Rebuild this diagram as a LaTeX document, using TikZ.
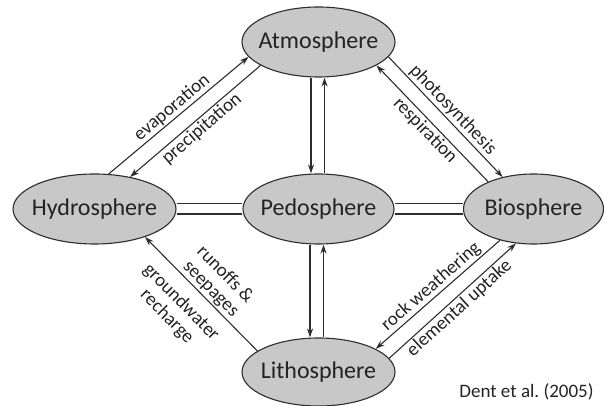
\documentclass[tikz,border=0pt]{standalone}
\usepackage{fontspec}
\setmainfont{Carlito}
\usetikzlibrary{arrows.meta,shapes.geometric}
\definecolor{sphere_gray}{RGB}{200,200,200}
\definecolor{line_gray}{RGB}{45,45,45}
\definecolor{text_dark}{RGB}{35,35,35}
% keep the ellipse size independent of the label width
\newcommand{\sphname}[1]{\makebox[0pt]{#1}}

\begin{document}
\begin{tikzpicture}[->,>={Stealth[length=9pt,width=6pt]},line width=1.1pt,draw=line_gray,x=1pt,y=1pt]
    \tikzstyle{sphere}=[draw=line_gray, ellipse, fill=sphere_gray, text=text_dark, inner sep=0pt, minimum height=70pt, font=\fontsize{24}{28}\selectfont]
    \tikzstyle{flow}=[sloped, text=text_dark, inner sep=1.5pt, align=center, font=\fontsize{19}{20}\selectfont]
    \tikzstyle{link}=[-, double, double distance=9pt]

    \useasboundingbox (0,0) rectangle (604,406);

    \node[sphere, minimum width=153pt] (atm) at (318.5,364) {\sphname{Atmosphere}};
    \node[sphere, minimum width=163pt] (hyd) at (94.5,197)  {\sphname{Hydrosphere}};
    \node[sphere, minimum width=151pt] (ped) at (318.5,197) {\sphname{Pedosphere}};
    \node[sphere, minimum width=140pt] (bio) at (533.5,197) {\sphname{Biosphere}};
    \node[sphere, minimum width=153pt, minimum height=68pt] (lit) at (318.5,34) {\sphname{Lithosphere}};
    \node[text=text_dark, font=\fontsize{19}{20}\selectfont] (ref) at (526.5,14) {Dent et al.\ (2005)};

    \path
     (hyd.68) edge node[flow, above] {evaporation} (atm.192)
     (atm.202) edge node[flow, below] {precipitation} (hyd.42)
     (atm.348) edge node[flow, above] {photosynthesis} (bio.134.5)
     (bio.149) edge node[flow, below] {respiration} (atm.338.5)
     (lit.161) edge node[flow, above, pos=0.48] {runoffs \&\\seepages}
                    node[flow, below=10pt, pos=0.55] {groundwater\\recharge} (hyd.331)
     (bio.223) edge node[flow, above] {rock weathering} (lit.22)
     (lit.11.5) edge node[flow, below] {elemental uptake} (bio.243)
     ([xshift=-7.5pt]atm.south) edge ([xshift=-7.5pt]ped.north)
     ([xshift=6pt]ped.north) edge ([xshift=6pt]atm.south)
     ([xshift=-8.5pt]ped.south) edge ([xshift=-8.5pt]lit.north)
     ([xshift=5pt]lit.north) edge ([xshift=5pt]ped.south)
     (hyd) edge[link] (ped)
     (ped) edge[link] (bio)
     ;
\end{tikzpicture}
\end{document}
